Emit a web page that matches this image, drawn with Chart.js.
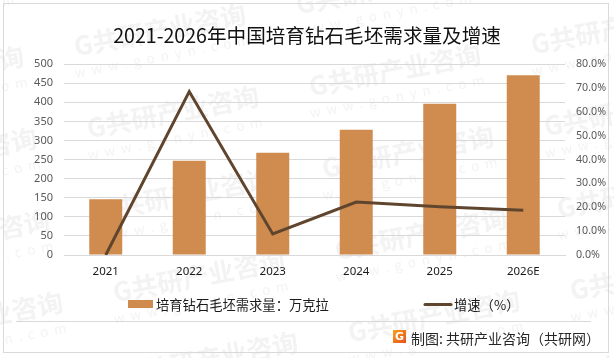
<!DOCTYPE html>
<html>
<head>
<meta charset="utf-8">
<script src="https://cdn.jsdelivr.net/npm/chart.js@4"></script>
<style>
html, body { margin: 0; padding: 0; background: #fff; }
#wrap { width: 614px; height: 358px; }
</style>
</head>
<body>
<div id="wrap"><canvas id="chart" width="614" height="358"></canvas></div>
<script>
const categories = ['2021', '2022', '2023', '2024', '2025', '2026E'];
const demand = [146, 247, 268, 328, 396, 471];
const growth = [0, 68.5, 8.8, 22.2, 20.2, 18.8];
const demandLabel = '培育钻石毛坯需求量：万克拉';
const growthLabel = '增速（%）';
const titleText = '2021-2026年中国培育钻石毛坯需求量及增速';
const footerText = '制图: 共研产业咨询（共研网）';

const CJK = '"Noto Sans CJK SC", "Noto Sans", sans-serif';
const BAR_COLOR = '#d08c4f';
const LINE_COLOR = '#5f452e';
const GRID_COLOR = '#d9d9d9';

// Background watermark, frame and footer
const backdrop = {
    id: 'backdrop',
    beforeDraw(chart) {
        const ctx = chart.ctx;
        ctx.save();
        ctx.fillStyle = '#fff';
        ctx.fillRect(0, 0, 614, 358);
        ctx.textAlign = 'center';
        ctx.textBaseline = 'middle';
        for (let i = -3; i <= 3; i++) {
            for (let j = -3; j <= 4; j++) {
                const x = 173 + i * 222 + j * 13;
                const y = 112 - i * 42 + j * 82;
                ctx.save();
                ctx.translate(x, y);
                ctx.rotate(-0.19);
                ctx.fillStyle = '#f3f3f3';
                ctx.font = 'bold 26px ' + CJK;
                ctx.fillText('G共研产业咨询', 0, 0);
                ctx.font = '13.5px ' + CJK;
                ctx.letterSpacing = '6px';
                ctx.fillText('www.gonyn.com', 0, 26);
                ctx.restore();
            }
        }
        ctx.strokeStyle = GRID_COLOR;
        ctx.lineWidth = 1;
        ctx.strokeRect(3.5, 3.5, 605, 349);
        ctx.beginPath();
        ctx.moveTo(16, 321.5);
        ctx.lineTo(591, 321.5);
        ctx.stroke();
        ctx.restore();
    },
    afterDraw(chart) {
        const ctx = chart.ctx;
        ctx.save();
        ctx.textBaseline = 'middle';
        ctx.font = '13.3px ' + CJK;

        // Legend
        ctx.fillStyle = BAR_COLOR;
        ctx.fillRect(128, 300, 25, 8);
        ctx.fillStyle = '#1a1a1a';
        ctx.fillText(demandLabel, 156, 304.5);
        ctx.strokeStyle = LINE_COLOR;
        ctx.lineWidth = 3;
        ctx.lineCap = 'round';
        ctx.beginPath();
        ctx.moveTo(425, 304.5);
        ctx.lineTo(451, 304.5);
        ctx.stroke();
        ctx.fillText(growthLabel, 454, 304.5);

        // Footer logo and source
        const grad = ctx.createLinearGradient(393, 330, 406, 343);
        grad.addColorStop(0, '#f7a11a');
        grad.addColorStop(1, '#e8501f');
        ctx.fillStyle = grad;
        ctx.fillRect(393, 330, 13, 13);
        ctx.fillStyle = '#fff';
        ctx.font = 'bold 11px "DejaVu Sans", sans-serif';
        ctx.textAlign = 'center';
        ctx.fillText('G', 399.5, 337);
        ctx.textAlign = 'left';
        ctx.fillStyle = '#262626';
        ctx.font = '14px ' + CJK;
        ctx.fillText(footerText, 411, 338.5);
        ctx.restore();
    }
};

new Chart(document.getElementById('chart'), {
    type: 'bar',
    data: {
        labels: categories,
        datasets: [
            {
                type: 'line',
                label: growthLabel,
                data: growth,
                yAxisID: 'y1',
                borderColor: LINE_COLOR,
                borderWidth: 3,
                pointRadius: 0,
                tension: 0,
                order: 1
            },
            {
                label: demandLabel,
                data: demand,
                yAxisID: 'y',
                backgroundColor: BAR_COLOR,
                barPercentage: 1,
                categoryPercentage: 0.395,
                order: 2
            }
        ]
    },
    options: {
        responsive: false,
        animation: false,
        layout: { padding: 0 },
        plugins: {
            legend: { display: false },
            tooltip: { enabled: false },
            title: {
                display: true,
                text: titleText,
                color: '#111',
                font: { family: CJK, size: 19.6, weight: 'normal' },
                padding: { top: 24, bottom: 16.6 }
            }
        },
        scales: {
            x: {
                grid: { display: false, drawTicks: false },
                border: { color: GRID_COLOR },
                ticks: { color: '#1a1a1a', padding: 10, maxRotation: 0, font: { family: '"Noto Sans"', size: 11.5 } },
                afterFit(scale) { scale.height = 103; }
            },
            y: {
                position: 'left',
                min: 0,
                max: 500,
                grid: { color: GRID_COLOR, drawTicks: false },
                border: { display: false },
                ticks: { stepSize: 50, color: '#595959', padding: 11, font: { family: '"Noto Sans"', size: 11 } },
                afterFit(scale) { scale.width = 64; }
            },
            y1: {
                position: 'right',
                min: 0,
                max: 80,
                grid: { display: false, drawTicks: false },
                border: { display: false },
                ticks: {
                    stepSize: 10,
                    color: '#595959',
                    padding: 11,
                    font: { family: '"Noto Sans"', size: 10.7 },
                    callback: v => v.toFixed(1) + '%'
                },
                afterFit(scale) { scale.width = 49; }
            }
        }
    },
    plugins: [backdrop]
});
</script>
</body>
</html>
